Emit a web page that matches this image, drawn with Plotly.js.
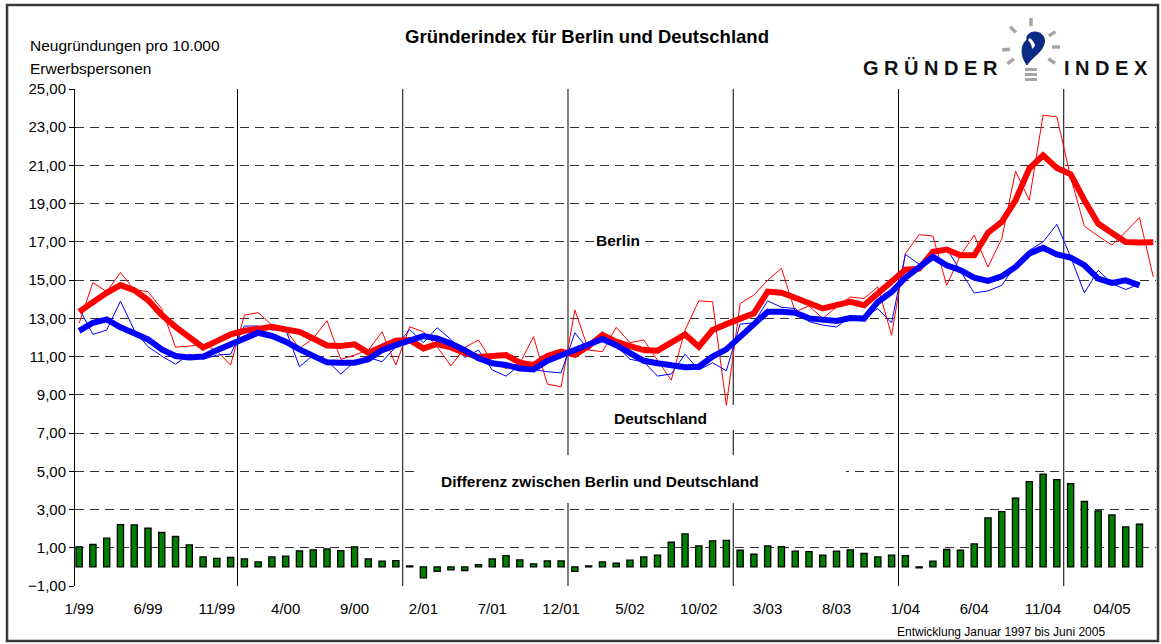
<!DOCTYPE html>
<html>
<head>
<meta charset="utf-8">
<script src="https://cdn.plot.ly/plotly-3.0.1.min.js"></script>
<style>html,body{margin:0;padding:0;background:#fff;}#chart{width:1161px;height:644px;}</style>
</head>
<body>
<div id="chart"></div>
<script>
// ---- Data ----
const months = [
  "1/99","2/99","3/99","4/99","5/99","6/99","7/99","8/99","9/99","10/99","11/99","12/99",
  "1/00","2/00","3/00","4/00","5/00","6/00","7/00","8/00","9/00","10/00","11/00","12/00",
  "1/01","2/01","3/01","4/01","5/01","6/01","7/01","8/01","9/01","10/01","11/01","12/01",
  "1/02","2/02","3/02","4/02","5/02","6/02","7/02","8/02","9/02","10/02","11/02","12/02",
  "1/03","2/03","3/03","4/03","5/03","6/03","7/03","8/03","9/03","10/03","11/03","12/03",
  "1/04","2/04","3/04","4/04","5/04","6/04","7/04","8/04","9/04","10/04","11/04","12/04",
  "01/05","02/05","03/05","04/05","05/05","06/05","07/05"
];
const tickLabels = ["1/99","6/99","11/99","4/00","9/00","2/01","7/01","12/01","5/02","10/02","3/03","8/03","1/04","6/04","11/04","04/05"];

// Berlin, monthly values (thin red)
const berlinMonthly = [
  12.75,14.87,14.40,15.40,14.50,14.40,13.50,11.50,11.55,11.65,11.30,10.56,
  13.17,13.30,12.65,12.40,11.43,11.95,12.88,10.86,11.08,11.34,12.30,10.56,
  12.56,12.30,11.52,10.51,11.48,11.87,10.73,10.38,10.65,12.04,9.56,9.42,
  13.44,11.34,11.26,12.53,11.73,11.87,10.81,9.77,12.39,13.92,13.87,8.45,
  13.78,14.22,15.00,15.62,13.35,13.65,13.00,13.60,14.12,14.04,14.65,12.12,
  16.39,17.38,17.31,14.73,16.30,17.35,15.69,17.17,20.70,19.18,23.63,23.54,
  20.40,17.82,17.31,16.83,17.52,18.27,15.17
];
// Berlin, smoothed (thick red)
const berlinTrend = [
  13.35,13.87,14.34,14.74,14.48,13.96,13.17,12.56,12.04,11.48,11.81,12.16,
  12.35,12.46,12.56,12.42,12.30,11.95,11.58,11.55,11.64,11.20,11.55,11.83,
  11.87,11.43,11.66,11.48,11.20,10.98,11.03,11.08,10.68,10.56,11.03,11.26,
  11.10,11.55,12.13,11.78,11.55,11.34,11.31,11.78,12.16,11.52,12.39,12.70,
  12.95,13.26,14.40,14.34,14.08,13.82,13.52,13.69,13.86,13.69,14.30,14.91,
  15.55,15.60,16.48,16.60,16.30,16.30,17.48,18.05,19.18,20.84,21.53,20.87,
  20.54,19.18,17.96,17.47,17.00,16.97,16.98
];
// Deutschland, monthly values (thin blue)
const deMonthly = [
  13.52,12.16,12.39,13.90,12.39,11.52,11.03,10.60,11.13,10.86,11.08,11.13,
  12.60,12.60,12.39,12.42,10.47,11.08,10.80,10.09,10.73,10.96,10.73,11.52,
  12.42,11.73,12.51,11.90,10.96,11.34,10.30,9.98,10.56,10.33,10.21,10.15,
  12.25,11.34,12.30,11.60,10.86,10.73,9.98,10.09,11.13,10.30,10.68,10.26,
  12.70,12.77,13.92,13.58,13.52,12.83,12.65,12.55,13.08,13.08,13.51,12.76,
  16.35,15.83,16.48,16.65,15.52,14.33,14.44,14.73,15.78,16.56,17.00,17.92,
  16.22,14.33,15.52,14.82,14.51,14.79
];
// Deutschland, smoothed (thick blue)
const deTrend = [
  12.35,12.77,12.95,12.53,12.22,11.90,11.38,11.03,10.96,11.00,11.34,11.66,
  11.95,12.25,12.08,11.78,11.38,11.00,10.70,10.68,10.68,10.86,11.34,11.60,
  11.87,12.08,11.95,11.69,11.34,10.91,10.65,10.56,10.38,10.33,10.78,11.08,
  11.32,11.66,11.92,11.60,11.20,10.78,10.65,10.51,10.44,10.47,11.00,11.38,
  12.04,12.65,13.35,13.35,13.30,13.00,12.92,12.87,13.02,12.99,13.86,14.38,
  15.13,15.69,16.22,15.78,15.52,15.13,14.96,15.20,15.69,16.39,16.69,16.35,
  16.18,15.78,15.08,14.86,14.99,14.73
];
// Differenz zwischen Berlin und Deutschland (green bars)
const diffBars = [
  1.05,1.17,1.50,2.21,2.20,2.02,1.80,1.59,1.15,0.52,0.45,0.49,
  0.42,0.26,0.52,0.56,0.84,0.89,0.94,0.85,1.05,0.42,0.30,0.33,
  0.05,-0.58,-0.24,-0.16,-0.19,0.12,0.42,0.59,0.37,0.16,0.31,0.31,
  -0.24,0.05,0.26,0.19,0.35,0.52,0.61,1.29,1.73,1.10,1.36,1.39,
  0.87,0.66,1.10,1.06,0.82,0.80,0.61,0.82,0.89,0.70,0.52,0.61,
  0.59,-0.05,0.30,0.91,0.87,1.20,2.56,2.89,3.59,4.46,4.85,4.57,
  4.36,3.42,2.93,2.72,2.09,2.23
];

// ---- Geometry helpers (layout only) ----
const W = 1161, H = 644, ML = 75, MR = 5, MT = 89, MB = 58;
const PW = W - ML - MR, PH = H - MT - MB;
const X_RANGE = [-0.3, 78.2];
const Y_RANGE = [-1, 25];
const px2x = p => (p - ML) / PW;        // pixel -> paper x
const px2y = p => (H - MB - p) / PH;    // pixel -> paper y
const px2dx = p => X_RANGE[0] + px2x(p) * (X_RANGE[1] - X_RANGE[0]);  // pixel -> data x
const px2dy = p => Y_RANGE[0] + px2y(p) * (Y_RANGE[1] - Y_RANGE[0]);  // pixel -> data y

const xCat = months;
const traces = [
  {type:'bar', x: xCat.slice(0, diffBars.length), y: diffBars, width: 0.45,
   marker:{color:'#008000', line:{color:'#000', width:1.3}}, hoverinfo:'skip'},
  {type:'scatter', mode:'lines', x: xCat.slice(0, berlinMonthly.length), y: berlinMonthly,
   line:{color:'#ff0000', width:1}, hoverinfo:'skip'},
  {type:'scatter', mode:'lines', x: xCat.slice(0, deMonthly.length), y: deMonthly,
   line:{color:'#0000ff', width:1}, hoverinfo:'skip'},
  {type:'scatter', mode:'lines', x: xCat.slice(0, berlinTrend.length), y: berlinTrend,
   line:{color:'#ff0000', width:6}, hoverinfo:'skip'},
  {type:'scatter', mode:'lines', x: xCat.slice(0, deTrend.length), y: deTrend,
   line:{color:'#0000ff', width:6}, hoverinfo:'skip'}
];

// Year boundaries (between December and January) and mid-year ticks on the zero line
const yearBounds = [], midYear = [];
months.forEach((m, i) => {
  const mon = parseInt(m.split('/')[0], 10);
  if (mon === 1 && i > 0) yearBounds.push(i - 0.5);
  if (mon === 6) midYear.push(i + 0.5);
});

const shapes = [];
yearBounds.forEach(b => shapes.push({type:'line', xref:'x', yref:'y', x0:b, x1:b, y0:Y_RANGE[0], y1:Y_RANGE[1],
  layer:'between', line:{color:'#000', width:1}}));
// white text boxes behind the "Deutschland" and "Differenz ..." labels
shapes.push({type:'rect', xref:'x', yref:'y', x0:px2dx(420), x1:px2dx(846), y0:px2dy(503), y1:px2dy(455),
  layer:'between', line:{width:0}, fillcolor:'#fff'});
shapes.push({type:'rect', xref:'x', yref:'y', x0:px2dx(600), x1:px2dx(745), y0:px2dy(430), y1:px2dy(405),
  layer:'between', line:{width:0}, fillcolor:'#fff'});
// outer border
shapes.push({type:'rect', xref:'paper', yref:'paper', x0:px2x(7), x1:px2x(1158), y0:px2y(641), y1:px2y(5),
  layer:'above', line:{color:'#3a3a3a', width:2.5}, fillcolor:'rgba(0,0,0,0)'});
// logo bulb
const cx = px2x(1031), cy = px2y(47);
[90,136,32,186,0,215,326].forEach(a => {
  const r = a * Math.PI / 180;
  shapes.push({type:'line', xref:'paper', yref:'paper', xsizemode:'pixel', ysizemode:'pixel',
    xanchor:cx, yanchor:cy, x0:21*Math.cos(r), y0:21*Math.sin(r), x1:29*Math.cos(r), y1:29*Math.sin(r),
    layer:'above', line:{color:'#a6a6a6', width:3.5}});
});
shapes.push({type:'path', xref:'paper', yref:'paper', xsizemode:'pixel', ysizemode:'pixel', xanchor:cx, yanchor:cy,
  path:'M 4,15 C 11,15 15,9 13,3 C 11,-4 5,-8 1,-12 C -1,-14 -3,-16 -4,-18 C -7,-14 -9,-9 -9,-4 C -9,1 -7,5 -4,7 C -5,11 -2,15 4,15 Z',
  layer:'above', line:{color:'#0b2a86', width:1}, fillcolor:'#0b2a86'});
shapes.push({type:'path', xref:'paper', yref:'paper', xsizemode:'pixel', ysizemode:'pixel', xanchor:cx, yanchor:cy,
  path:'M -1,9 C 2,6 4,4 4,1 L 1,-2 C 1,2 -1,5 -3,7 Z',
  layer:'above', line:{width:0}, fillcolor:'#ffffff'});
[-21,-26,-31].forEach(d => shapes.push({type:'rect', xref:'paper', yref:'paper', xsizemode:'pixel', ysizemode:'pixel',
  xanchor:cx, yanchor:cy, x0:-6, x1:6, y0:d-3, y1:d, layer:'above', line:{width:0}, fillcolor:'#a6a6a6'}));

const F = 'Liberation Sans, Arial, sans-serif';
const annotations = [
  {xref:'paper', yref:'paper', x:px2x(28), y:px2y(45), xanchor:'left', yanchor:'middle', showarrow:false,
   text:'Neugründungen pro 10.000', font:{family:F, size:15.5, color:'#000'}},
  {xref:'paper', yref:'paper', x:px2x(28), y:px2y(68), xanchor:'left', yanchor:'middle', showarrow:false,
   text:'Erwerbspersonen', font:{family:F, size:15.5, color:'#000'}},
  {xref:'paper', yref:'paper', x:px2x(930), y:px2y(68), xanchor:'center', yanchor:'middle', showarrow:false,
   text:'<b>G R Ü N D E R</b>', font:{family:F, size:20, color:'#111'}},
  {xref:'paper', yref:'paper', x:px2x(1106), y:px2y(68), xanchor:'center', yanchor:'middle', showarrow:false,
   text:'<b>I N D E X</b>', font:{family:F, size:20, color:'#111'}},
  {xref:'paper', yref:'paper', x:px2x(618), y:px2y(240), xanchor:'center', yanchor:'middle', showarrow:false,
   text:'<b>Berlin</b>', bgcolor:'#fff', font:{family:F, size:15.5, color:'#000'}},
  {xref:'paper', yref:'paper', x:px2x(660), y:px2y(418), xanchor:'center', yanchor:'middle', showarrow:false,
   text:'<b>Deutschland</b>', font:{family:F, size:15.5, color:'#000'}},
  {xref:'paper', yref:'paper', x:px2x(600), y:px2y(481), xanchor:'center', yanchor:'middle', showarrow:false,
   text:'<b>Differenz zwischen Berlin und Deutschland</b>', font:{family:F, size:15.5, color:'#000'}},
  {xref:'paper', yref:'paper', x:px2x(1001), y:px2y(632), xanchor:'center', yanchor:'middle', showarrow:false,
   text:'Entwicklung Januar 1997 bis Juni 2005', font:{family:F, size:12, color:'#000'}}
];

const yTicks = [];
for (let v = Y_RANGE[0]; v <= Y_RANGE[1]; v += 2) yTicks.push(v);

const layout = {
  width: W, height: H,
  margin:{l:ML, r:MR, t:MT, b:MB, pad:0},
  paper_bgcolor:'#fff', plot_bgcolor:'#fff',
  showlegend:false, separators:',.',
  font:{family:F, size:15, color:'#000'},
  title:{text:'<b>Gründerindex für Berlin und Deutschland</b>', xref:'container', yref:'container',
    x:587/W, y:1-37/H, xanchor:'center', yanchor:'middle', font:{family:F, size:18.5, color:'#000'}},
  bargap:0.5,
  xaxis:{type:'category', categoryorder:'array', categoryarray:months, range:X_RANGE,
    tickmode:'array', tickvals:tickLabels, ticktext:tickLabels,
    showgrid:false, zeroline:false, showline:false, ticks:'', ticklabelstandoff:12,
    tickfont:{family:F, size:15, color:'#000'}, fixedrange:true},
  xaxis2:{overlaying:'x', anchor:'free', position:(0 - Y_RANGE[0]) / (Y_RANGE[1] - Y_RANGE[0]), side:'bottom',
    type:'linear', range:X_RANGE, showline:true, linecolor:'#000', linewidth:1.5,
    tickmode:'array', tickvals:midYear, ticks:'outside', ticklen:5, tickwidth:1, tickcolor:'#000',
    showticklabels:false, showgrid:false, zeroline:false},
  yaxis:{range:Y_RANGE, tickmode:'array', tickvals:yTicks, tickformat:'.2f',
    showgrid:true, gridcolor:'#333', griddash:'9px,6px', gridwidth:1,
    zeroline:false, showline:true, linecolor:'#000', linewidth:1,
    ticks:'outside', ticklen:5, tickcolor:'#000', tickfont:{family:F, size:15, color:'#000'}, fixedrange:true},
  shapes: shapes,
  annotations: annotations
};

Plotly.newPlot('chart', traces, layout, {displayModeBar:false, staticPlot:true});
</script>
</body>
</html>
